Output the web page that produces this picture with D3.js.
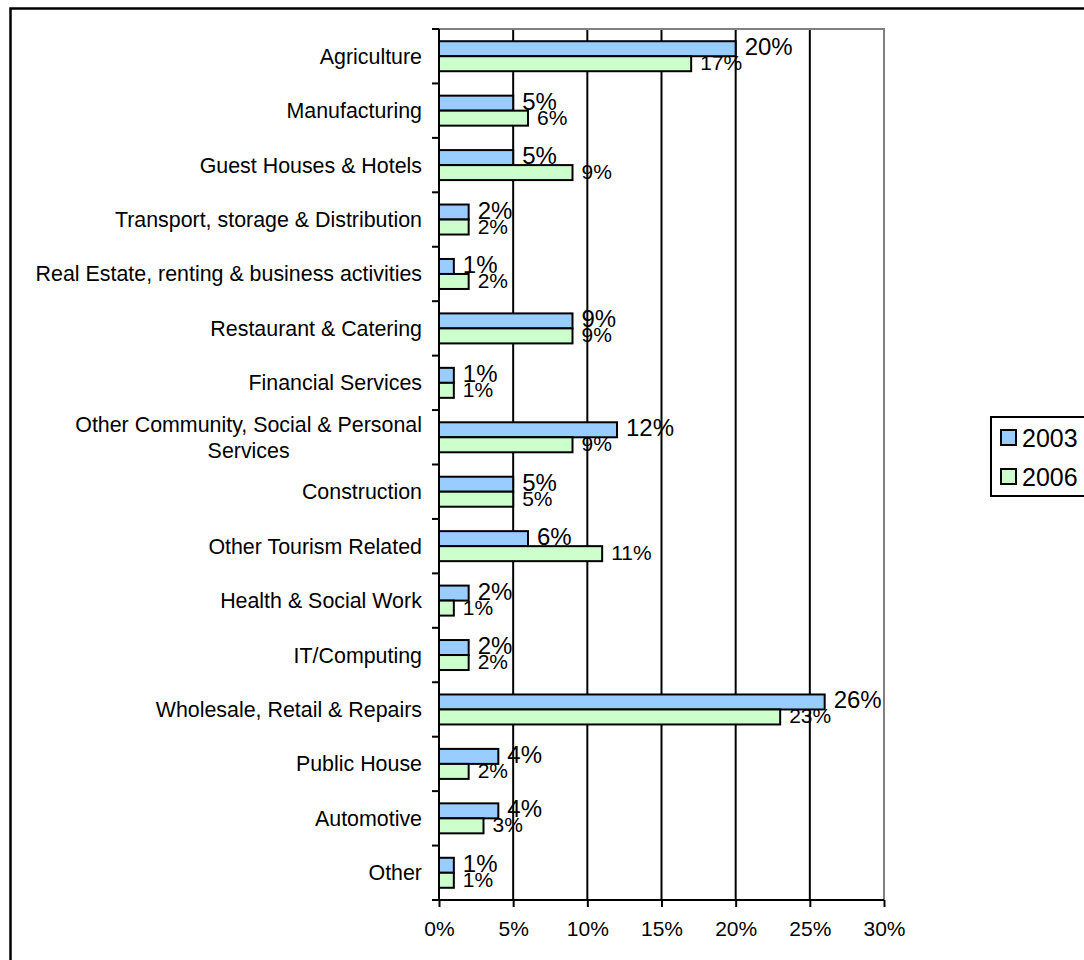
<!DOCTYPE html>
<html>
<head>
<meta charset="utf-8">
<script src="https://cdn.jsdelivr.net/npm/d3@7/dist/d3.min.js"></script>
<style>
  html, body { margin: 0; padding: 0; background: #fff; }
  svg { display: block; font-family: "Liberation Sans", Arial, sans-serif; }
</style>
</head>
<body>
<svg id="chart" width="1084" height="960"></svg>
<script>
// Business sectors, share of businesses by year
const categories = [
  ["Agriculture"],
  ["Manufacturing"],
  ["Guest Houses & Hotels"],
  ["Transport, storage & Distribution"],
  ["Real Estate, renting & business activities"],
  ["Restaurant & Catering"],
  ["Financial Services"],
  ["Other Community, Social & Personal", "Services"],
  ["Construction"],
  ["Other Tourism Related"],
  ["Health & Social Work"],
  ["IT/Computing"],
  ["Wholesale, Retail & Repairs"],
  ["Public House"],
  ["Automotive"],
  ["Other"]
];
const seriesNames = ["2003", "2006"];
const values2003 = [20, 5, 5, 2, 1, 9, 1, 12, 5, 6, 2, 2, 26, 4, 4, 1];
const values2006 = [17, 6, 9, 2, 2, 9, 1, 9, 5, 11, 1, 2, 23, 2, 3, 1];
const xTicks = [0, 5, 10, 15, 20, 25, 30];
const seriesColors = ["#99CCFF", "#CCFFCC"];

const svg = d3.select("#chart");

// Outer frame (runs off the right and bottom edges)
svg.append("rect")
  .attr("x", 10.5).attr("y", 8.5)
  .attr("width", 1200).attr("height", 1000)
  .attr("fill", "none").attr("stroke", "#000").attr("stroke-width", 2.5);

const plot = { left: 439, right: 884, top: 29, bottom: 900 };

const x = d3.scaleLinear().domain([0, 30]).range([plot.left, plot.right]);
const labels = categories.map(c => c.join(" "));
const y = d3.scaleBand().domain(labels).range([plot.top, plot.bottom]).padding(0);
const ySub = d3.scaleBand().domain(seriesNames).range([0, y.bandwidth()])
  .paddingInner(0).paddingOuter(0.815);

// Vertical gridlines
svg.append("g").selectAll("line")
  .data(xTicks.filter(t => t > 0 && t < 30))
  .join("line")
  .attr("x1", d => x(d)).attr("x2", d => x(d))
  .attr("y1", plot.top).attr("y2", plot.bottom)
  .attr("stroke", "#000").attr("stroke-width", 2);

// Plot area frame: top and right edges in grey
svg.append("path")
  .attr("d", `M${plot.left},${plot.top}H${plot.right}V${plot.bottom}`)
  .attr("fill", "none").attr("stroke", "#808080").attr("stroke-width", 2);

// Bars
const rows = labels.map((l, i) => ({ label: l, v: [values2003[i], values2006[i]] }));
const barData = [];
rows.forEach(r => seriesNames.forEach((s, j) => barData.push({ label: r.label, series: s, j, value: r.v[j] })));

svg.append("g").selectAll("rect")
  .data(barData)
  .join("rect")
  .attr("x", x(0))
  .attr("y", d => y(d.label) + ySub(d.series))
  .attr("width", d => x(d.value) - x(0))
  .attr("height", ySub.bandwidth())
  .attr("fill", d => seriesColors[d.j])
  .attr("stroke", "#000").attr("stroke-width", 2);

// Value labels
svg.append("g").selectAll("text")
  .data(barData)
  .join("text")
  .attr("x", d => x(d.value) + 9)
  .attr("y", d => y(d.label) + ySub(d.series) + ySub.bandwidth() / 2 + 6.5)
  .attr("font-size", d => d.j === 0 ? 24 : 21)
  .attr("fill", "#000")
  .text(d => d.value + "%");

// Category axis
const yAxisG = svg.append("g").attr("transform", `translate(${plot.left},0)`);
const boundaries = d3.range(labels.length + 1).map(i => plot.top + i * y.step());
yAxisG.append("line")
  .attr("x1", 0).attr("x2", 0).attr("y1", plot.top).attr("y2", plot.bottom)
  .attr("stroke", "#000").attr("stroke-width", 2);
yAxisG.selectAll("line.tick")
  .data(boundaries)
  .join("line").attr("class", "tick")
  .attr("x1", -7).attr("x2", 0)
  .attr("y1", d => d).attr("y2", d => d)
  .attr("stroke", "#000").attr("stroke-width", 2);

const catText = svg.append("g").selectAll("text")
  .data(categories)
  .join("text")
  .attr("font-size", 21.4)
  .attr("fill", "#000")
  .attr("text-anchor", "middle");
catText.each(function(lines, i) {
  const t = d3.select(this);
  const cy = y(labels[i]) + y.bandwidth() / 2;
  const lh = 26;
  const startY = cy - (lines.length - 1) * lh / 2 + 7.5;
  lines.forEach((ln, k) => {
    t.append("tspan").attr("x", 0).attr("y", startY + k * lh).text(ln);
  });
});
// Right-align each label block, centring its lines against each other
catText.each(function() {
  const w = this.getBBox().width;
  d3.select(this).selectAll("tspan").attr("x", 422 - w / 2);
});

// Value axis
const xAxis = d3.axisBottom(x).tickValues(xTicks).tickFormat(d => d + "%")
  .tickSize(7).tickPadding(14);
const xAxisG = svg.append("g").attr("transform", `translate(0,${plot.bottom})`).call(xAxis);
xAxisG.select(".domain").remove();
xAxisG.selectAll(".tick line").attr("stroke", "#000").attr("stroke-width", 2);
xAxisG.selectAll(".tick text").attr("font-size", 21).attr("fill", "#000")
  .attr("font-family", "Liberation Sans, Arial, sans-serif");
xAxisG.append("line")
  .attr("x1", plot.left - 7).attr("x2", plot.right)
  .attr("y1", 0).attr("y2", 0)
  .attr("stroke", "#000").attr("stroke-width", 2);

// Legend
const legend = svg.append("g");
legend.append("rect")
  .attr("x", 991).attr("y", 417).attr("width", 200).attr("height", 79)
  .attr("fill", "#fff").attr("stroke", "#000").attr("stroke-width", 2);
const legY = [437.5, 476.5];
seriesNames.forEach((s, i) => {
  legend.append("rect")
    .attr("x", 1001).attr("y", legY[i] - 7.5).attr("width", 15).attr("height", 15)
    .attr("fill", seriesColors[i]).attr("stroke", "#000").attr("stroke-width", 2);
  legend.append("text")
    .attr("x", 1022).attr("y", legY[i] + 9)
    .attr("font-size", 25).attr("fill", "#000")
    .text(s);
});
</script>
</body>
</html>
